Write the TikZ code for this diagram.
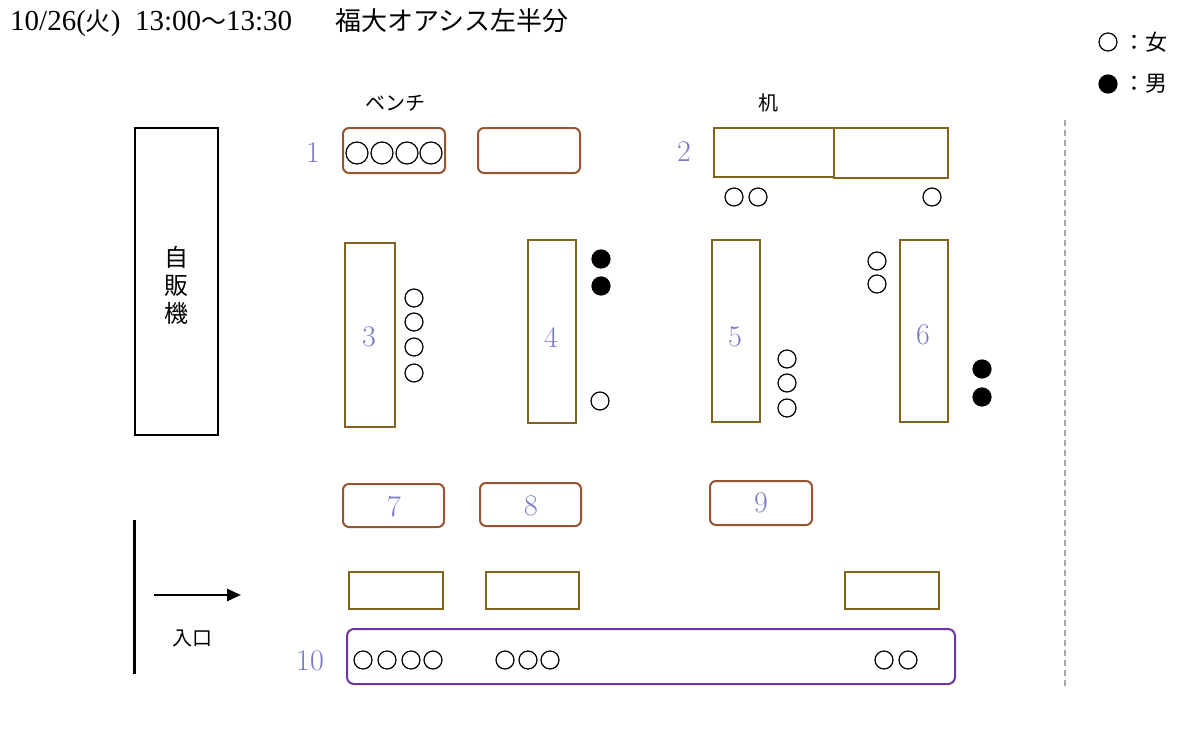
\documentclass[tikz,border=0pt]{standalone}
\usepackage{fontspec}
\newfontfamily\cjk{Noto Sans CJK JP}
\newfontfamily\tms{Liberation Serif}
\usetikzlibrary{arrows.meta}
\definecolor{bench}{RGB}{150,85,50}
\definecolor{desk}{RGB}{130,100,30}
\definecolor{num}{RGB}{120,120,200}
\definecolor{purp}{RGB}{110,55,160}
\begin{document}
\begin{tikzpicture}[x=1pt,y=-1pt,
 bench/.style={draw=bench,line width=2pt,rounded corners=6pt},
 desk/.style={draw=desk,line width=1.6pt},
 pp/.style={draw=black,line width=1.2pt,circle,minimum size=18pt,inner sep=0pt},
 bp/.style={pp,minimum size=22pt},
 mm/.style={pp,fill=black},
 num/.style={text=num,font=\fontsize{30}{30}\selectfont},
 lab/.style={font=\cjk\fontsize{20}{20}\selectfont}]
\useasboundingbox (0,0) rectangle (1200,739);
\node[anchor=west,inner sep=0pt] (title) at (10,23) {\tms\fontsize{29}{29}\selectfont 10/26({\cjk\fontsize{25}{25}\selectfont 火})\ \ 13:00{\cjk\fontsize{25}{25}\selectfont ～}13:30\quad\ \ {\cjk\fontsize{26}{26}\selectfont 福大オアシス左半分}};
\node[pp] (lf) at (1108,42) {}; \node[lab,anchor=west] (lft) at (1120,42) {\fontsize{22}{22}\selectfont ：女};
\node[mm] (lm) at (1108,84) {}; \node[lab,anchor=west] (lmt) at (1120,84) {\fontsize{22}{22}\selectfont ：男};
\node[lab] (benchlab) at (395,103) {ベンチ};
\node[lab] (desklab) at (768,103) {机};
\draw[line width=2pt] (135,128) rectangle (218,435);
\node[lab,align=center,font=\cjk\fontsize{24}{28}\selectfont] (vm) at (176,285) {自\\販\\機};
% row 1
\draw[bench] (343,128) rectangle (445,173);
\node[num] (n1) at (313,153) {1};
\foreach \x in {357,382,407,431} \node[bp] at (\x,153) {};
\draw[bench] (478,128) rectangle (580,173);
\draw[desk] (714,128) rectangle (834,177);
\draw[desk] (834,128) rectangle (948,178);
\node[num] (n2) at (684,152) {2};
\foreach \x in {734,758,932} \node[pp] at (\x,197) {};
% desks 3-6
\draw[desk] (345,243) rectangle (395,427); \node[num] (n3) at (369,337) {3};
\foreach \y in {298,322,347,373} \node[pp] at (414,\y) {};
\draw[desk] (528,240) rectangle (576,423); \node[num] (n4) at (551,337) {4};
\foreach \y in {259,286} \node[mm] at (601,\y) {};
\node[pp] at (600,401) {};
\draw[desk] (712,240) rectangle (760,422); \node[num] (n5) at (735,337) {5};
\foreach \y in {359,383,408} \node[pp] at (787,\y) {};
\draw[desk] (900,240) rectangle (948,422); \node[num] (n6) at (923,335) {6};
\foreach \y in {261,284} \node[pp] at (877,\y) {};
\foreach \y in {369,397} \node[mm] at (982,\y) {};
% benches 7-9
\draw[bench] (343,484) rectangle (444,527); \node[num] (n7) at (394,507) {7};
\draw[bench] (480,483) rectangle (581,526); \node[num] (n8) at (531,506) {8};
\draw[bench] (710,481) rectangle (812,525); \node[num] (n9) at (761,503) {9};
\draw[desk] (349,572) rectangle (443,609);
\draw[desk] (486,572) rectangle (579,609);
\draw[desk] (845,572) rectangle (939,609);
% bench 10
\draw[draw=purp,line width=2pt,rounded corners=7pt] (347,629) rectangle (955,684);
\node[num] (n10) at (310,661) {10};
\foreach \x in {363,387,411,433,505,528,550,884,908} \node[pp] at (\x,660) {};
% entrance
\draw[line width=3pt] (134,520) -- (134,674);
\coordinate (a1) at (154,595); \coordinate (a2) at (241,595);
\draw[line width=2.5pt,-{Triangle[length=14pt,width=12pt]}] (a1) -- (a2);
\node[lab] (ent) at (192,638) {入口};
\draw[gray!70,line width=1.3pt,dash pattern=on 6pt off 4pt] (1065,120) -- (1065,688);
\end{tikzpicture}
\end{document}
